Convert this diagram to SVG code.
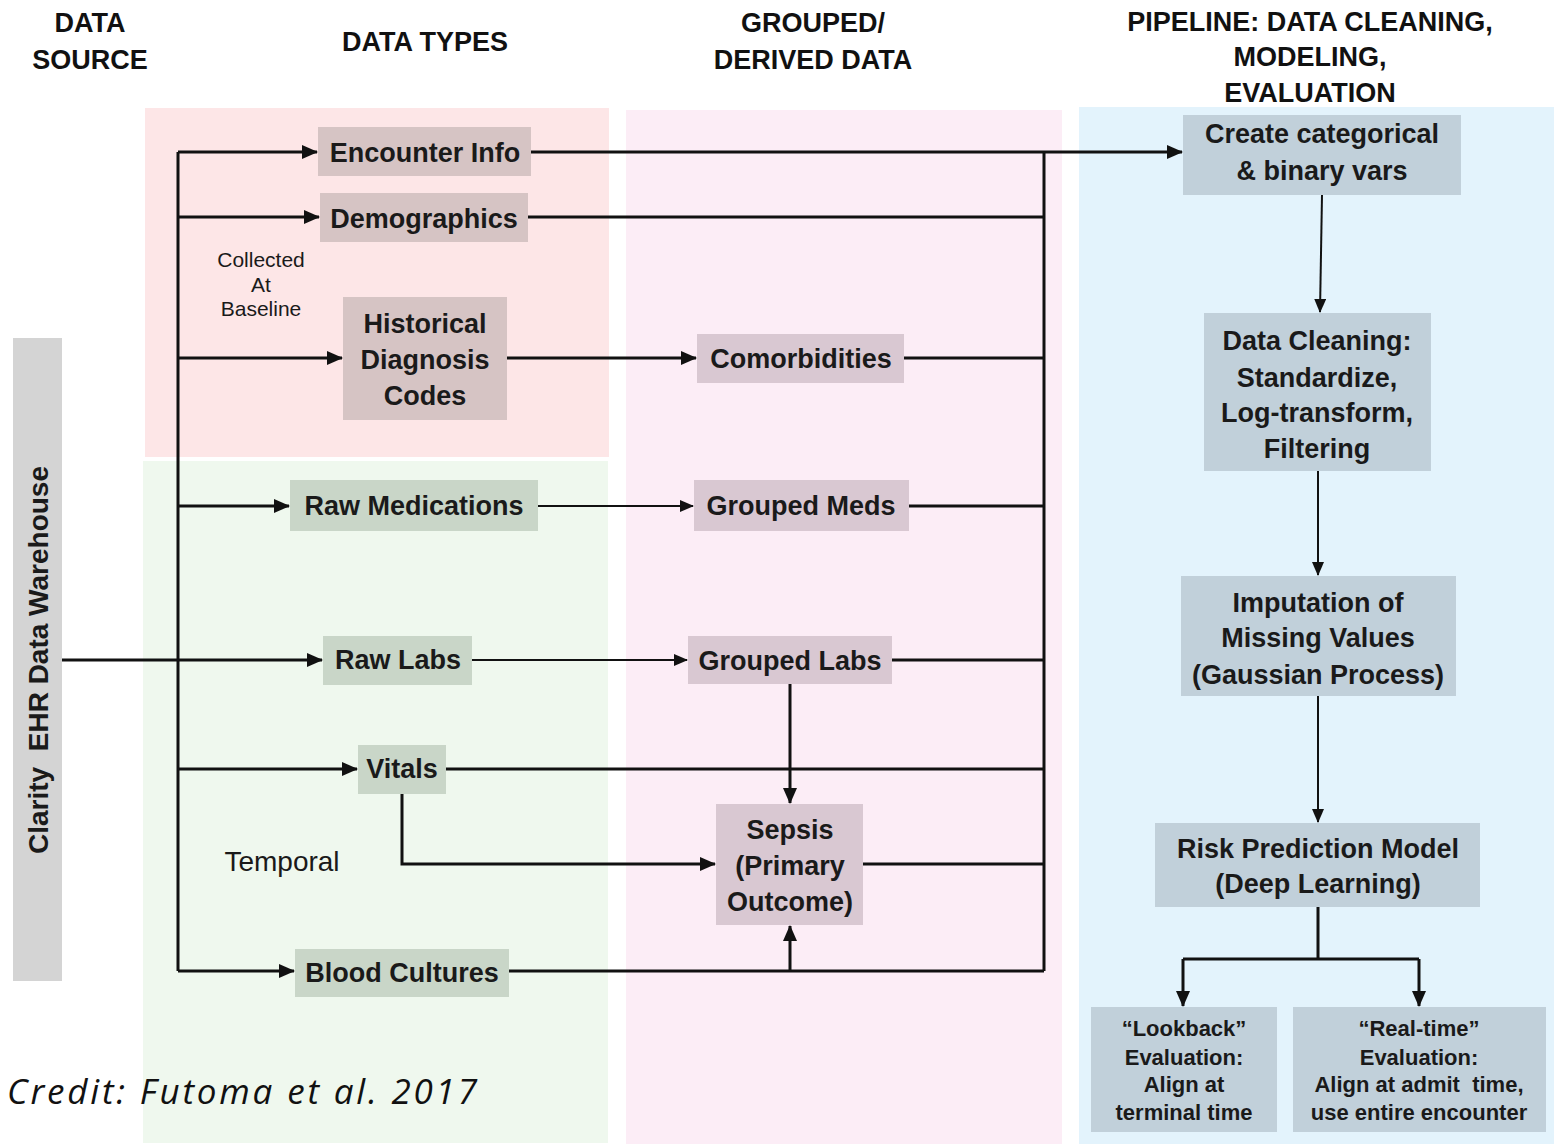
<svg xmlns="http://www.w3.org/2000/svg" width="1554" height="1144" viewBox="0 0 1554 1144">
<defs>
<marker id="arr" markerUnits="userSpaceOnUse" markerWidth="16" markerHeight="14" refX="15" refY="7" orient="auto"><path d="M0,0 L16,7 L0,14 z" fill="#111"/></marker>
<marker id="arrs" markerUnits="userSpaceOnUse" markerWidth="14" markerHeight="12" refX="13" refY="6" orient="auto"><path d="M0,0 L14,6 L0,12 z" fill="#111"/></marker>
</defs>
<style>
.hd{font-family:"Liberation Sans",Arial,sans-serif;font-weight:bold;font-size:27px;fill:#111;text-anchor:middle}
.t{font-family:"Liberation Sans",Arial,sans-serif;font-weight:bold;font-size:27px;fill:#1a1a1a;text-anchor:middle;dominant-baseline:central}
.ts{font-family:"Liberation Sans",Arial,sans-serif;font-weight:bold;font-size:22px;fill:#1a1a1a;text-anchor:middle;dominant-baseline:central}
.lb{font-family:"Liberation Sans",Arial,sans-serif;fill:#1a1a1a;text-anchor:middle;dominant-baseline:central}
.pk{fill:#d6c4c4}.gn{fill:#c9d6c8}.lv{fill:#d9c8d2}.bl{fill:#c1d0da}
.ln{fill:none;stroke:#111;stroke-width:3}
.thin{fill:none;stroke:#111;stroke-width:2}
</style>
<rect width="1554" height="1144" fill="#fff"/>
<!-- panels -->
<rect x="145" y="108" width="464" height="349" fill="#fde6e7"/>
<rect x="143" y="461" width="465" height="682" fill="#eff8ee"/>
<rect x="626" y="110" width="436" height="1034" fill="#fcedf6"/>
<rect x="1079" y="107" width="475" height="1037" fill="#e3f3fc"/>
<rect x="13" y="338" width="49" height="643" fill="#d4d4d4"/>
<!-- headers -->
<text class="hd" x="90" y="32">DATA</text>
<text class="hd" x="90" y="69">SOURCE</text>
<text class="hd" x="425" y="51">DATA TYPES</text>
<text class="hd" x="813" y="32">GROUPED/</text>
<text class="hd" x="813" y="69">DERIVED DATA</text>
<text class="hd" x="1310" y="31">PIPELINE: DATA CLEANING,</text>
<text class="hd" x="1310" y="66">MODELING,</text>
<text class="hd" x="1310" y="102">EVALUATION</text>
<!-- labels -->
<text class="lb" x="38" y="660" font-size="28" font-weight="bold" fill="#333" transform="rotate(-90 38 660)" xml:space="preserve">Clarity  EHR Data Warehouse</text>
<text class="lb" x="261" y="259" font-size="21">Collected</text>
<text class="lb" x="261" y="284" font-size="21">At</text>
<text class="lb" x="261" y="308" font-size="21">Baseline</text>
<text class="lb" x="282" y="861" font-size="28">Temporal</text>
<text x="7" y="1104" font-family="Open Sans, sans-serif" font-style="italic" font-size="35" fill="#111" textLength="470" lengthAdjust="spacing">Credit: Futoma et al. 2017</text>
<!-- connectors -->
<g id="connectors">
<path class="ln" d="M178,152 V971"/>
<path class="ln" d="M1044,152 V971"/>
<path class="ln" d="M178,152 H317" marker-end="url(#arr)"/>
<path class="ln" d="M178,217 H319" marker-end="url(#arr)"/>
<path class="ln" d="M178,358 H342" marker-end="url(#arr)"/>
<path class="ln" d="M178,506 H289" marker-end="url(#arr)"/>
<path class="ln" d="M62,660 H322" marker-end="url(#arr)"/>
<path class="ln" d="M178,769 H357" marker-end="url(#arr)"/>
<path class="ln" d="M178,971 H294" marker-end="url(#arr)"/>
<path class="ln" d="M531,152 H1182" marker-end="url(#arr)"/>
<path class="ln" d="M528,217 H1044"/>
<path class="ln" d="M507,358 H696" marker-end="url(#arr)"/>
<path class="ln" d="M904,358 H1044"/>
<path class="thin" d="M538,506 H693" marker-end="url(#arrs)"/>
<path class="ln" d="M909,506 H1044"/>
<path class="thin" d="M472,660 H687" marker-end="url(#arrs)"/>
<path class="ln" d="M892,660 H1044"/>
<path class="ln" d="M790,684 V803" marker-end="url(#arr)"/>
<path class="ln" d="M446,769 H1044"/>
<path class="ln" d="M402,794 V864 H715" marker-end="url(#arr)"/>
<path class="ln" d="M863,864 H1044"/>
<path class="ln" d="M509,971 H1044"/>
<path class="ln" d="M790,971 V926" marker-end="url(#arr)"/>
<path class="thin" d="M1322,195 L1320,312" marker-end="url(#arrs)"/>
<path class="thin" d="M1318,471 V575" marker-end="url(#arrs)"/>
<path class="thin" d="M1318,696 V822" marker-end="url(#arrs)"/>
<path class="ln" d="M1318,907 V959"/>
<path class="ln" d="M1183,959 H1419"/>
<path class="ln" d="M1183,959 V1006" marker-end="url(#arr)"/>
<path class="ln" d="M1419,959 V1006" marker-end="url(#arr)"/>
</g>
<!-- nodes -->
<g id="encounter"><rect class="pk" x="318" y="127" width="213" height="49"/><text class="t" x="425" y="153">Encounter Info</text></g>
<g id="demographics"><rect class="pk" x="320" y="193" width="208" height="49"/><text class="t" x="424" y="219">Demographics</text></g>
<g id="historical"><rect class="pk" x="343" y="297" width="164" height="123"/><text class="t" x="425" y="324">Historical</text><text class="t" x="425" y="360">Diagnosis</text><text class="t" x="425" y="396">Codes</text></g>
<g id="comorbidities"><rect class="lv" x="697" y="334" width="207" height="49"/><text class="t" x="801" y="359">Comorbidities</text></g>
<g id="rawmeds"><rect class="gn" x="290" y="480" width="248" height="51"/><text class="t" x="414" y="506">Raw Medications</text></g>
<g id="groupedmeds"><rect class="lv" x="694" y="480" width="215" height="51"/><text class="t" x="801" y="506">Grouped Meds</text></g>
<g id="rawlabs"><rect class="gn" x="323" y="636" width="149" height="49"/><text class="t" x="398" y="660">Raw Labs</text></g>
<g id="groupedlabs"><rect class="lv" x="688" y="636" width="204" height="48"/><text class="t" x="790" y="661">Grouped Labs</text></g>
<g id="vitals"><rect class="gn" x="358" y="745" width="88" height="49"/><text class="t" x="402" y="769">Vitals</text></g>
<g id="sepsis"><rect class="lv" x="716" y="804" width="147" height="121"/><text class="t" x="790" y="830">Sepsis</text><text class="t" x="790" y="866">(Primary</text><text class="t" x="790" y="902">Outcome)</text></g>
<g id="bloodcultures"><rect class="gn" x="295" y="949" width="214" height="48"/><text class="t" x="402" y="973">Blood Cultures</text></g>
<g id="create"><rect class="bl" x="1183" y="115" width="278" height="80"/><text class="t" x="1322" y="134" font-size="28">Create categorical</text><text class="t" x="1322" y="171" font-size="28">&amp; binary vars</text></g>
<g id="cleaning"><rect class="bl" x="1204" y="313" width="227" height="158"/><text class="t" x="1317" y="341">Data Cleaning:</text><text class="t" x="1317" y="378">Standardize,</text><text class="t" x="1317" y="413">Log-transform,</text><text class="t" x="1317" y="449">Filtering</text></g>
<g id="imputation"><rect class="bl" x="1181" y="576" width="275" height="120"/><text class="t" x="1318" y="603" font-size="26">Imputation of</text><text class="t" x="1318" y="638" font-size="26">Missing Values</text><text class="t" x="1318" y="675" font-size="26">(Gaussian Process)</text></g>
<g id="risk"><rect class="bl" x="1155" y="823" width="325" height="84"/><text class="t" x="1318" y="849">Risk Prediction Model</text><text class="t" x="1318" y="884">(Deep Learning)</text></g>
<g id="lookback"><rect class="bl" x="1091" y="1007" width="186" height="125"/><text class="ts" x="1184" y="1028">“Lookback”</text><text class="ts" x="1184" y="1057">Evaluation:</text><text class="ts" x="1184" y="1084">Align at</text><text class="ts" x="1184" y="1112">terminal time</text></g>
<g id="realtime"><rect class="bl" x="1293" y="1007" width="253" height="125"/><text class="ts" x="1419" y="1028">“Real-time”</text><text class="ts" x="1419" y="1057">Evaluation:</text><text class="ts" x="1419" y="1084" xml:space="preserve">Align at admit  time,</text><text class="ts" x="1419" y="1112">use entire encounter</text></g>
</svg>
